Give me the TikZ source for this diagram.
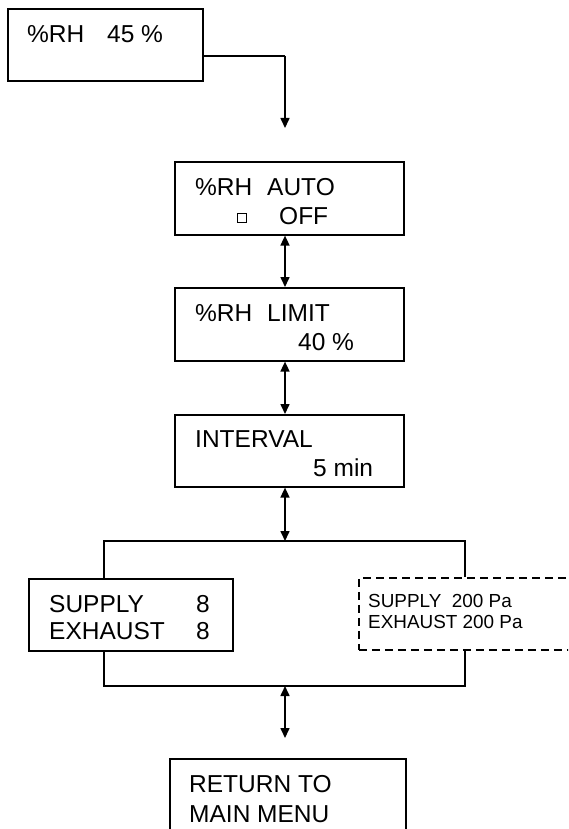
\documentclass[tikz,border=0pt]{standalone}
\usepackage{fontspec}
\setmainfont{Liberation Sans}
\usetikzlibrary{arrows.meta, positioning, calc}

\tikzset{
  panel/.style={draw, line width=1.6pt, minimum width=229pt, minimum height=73pt,
    anchor=north west, inner sep=0pt},
  lbl/.style={anchor=base west, inner sep=0pt, font=\fontsize{24.5}{29}\selectfont},
  small/.style={anchor=base west, inner sep=0pt, font=\fontsize{18.9}{22}\selectfont},
  wire/.style={line width=1.6pt},
  flow/.style={wire, -{Triangle[length=10pt,width=9pt]}},
  both/.style={wire, {Triangle[length=10pt,width=9pt]}-{Triangle[length=10pt,width=9pt]}},
}

\begin{document}
\begin{tikzpicture}[x=1pt, y=-1pt]
  \clip (0,0) rectangle (568,829);
  \coordinate (axis) at (285,0);

  % menu boxes
  \node[panel, minimum width=195pt, minimum height=72pt] (rh) at (7,8) {};
  \node[panel] (auto) at (174,161) {};
  \node[panel] (limit) at (174,287) {};
  \node[panel, minimum height=72pt] (interval) at (174,414) {};
  \node[panel, minimum width=204pt, minimum height=72pt] (fans) at (28,578) {};
  \node[panel, dash pattern=on 8pt off 5pt, minimum width=230pt, minimum height=72pt] (press) at (358,577) {};
  \node[panel, minimum width=236pt, minimum height=100pt] (ret) at (169,758) {};

  % texts
  \node[lbl] (t1) at (27,43) {\%RH};
  \node[lbl] (t2) at (107,43) {45 \%};
  \node[lbl] (t3) at (195,195) {\%RH};
  \node[lbl] (t4) at (267,195) {AUTO};
  \node[draw, line width=0.7pt, minimum width=9pt, minimum height=9pt, inner sep=0pt] (chk) at (242,218) {};
  \node[lbl] (t5) at (279,224) {OFF};
  \node[lbl] (t6) at (195,321) {\%RH};
  \node[lbl] (t7) at (267,321) {LIMIT};
  \node[lbl] (t8) at (298,350) {40 \%};
  \node[lbl] (t9) at (195,447) {INTERVAL};
  \node[lbl] (t10) at (313,476) {5 min};
  \node[lbl] (t11) at (49,612) {SUPPLY};
  \node[lbl] (t12) at (196,612) {8};
  \node[lbl] (t13) at (49,639) {EXHAUST};
  \node[lbl] (t14) at (196,639) {8};
  \node[small] (t15) at (368,607) {SUPPLY\ \ 200 Pa};
  \node[small] (t16) at (368,628) {EXHAUST 200 Pa};
  \node[lbl] (t17) at (189,792) {RETURN TO};
  \node[lbl] (t18) at (189,822) {MAIN MENU};

  % connectors
  \coordinate (bend) at (285,56);
  \coordinate (drop) at (285,128);
  \draw[wire] (rh.east |- bend) -- (bend);
  \draw[flow] (bend) -- (drop);
  \draw[both] (auto.south -| axis) -- (limit.north -| axis);
  \draw[both] (limit.south -| axis) -- (interval.north -| axis);

  \coordinate (splitL) at (104,541);
  \coordinate (splitR) at (465,541);
  \coordinate (joinL) at (104,686);
  \coordinate (joinR) at (465,686);
  \draw[both] (interval.south -| axis) -- (splitL -| axis);
  \draw[wire] (fans.north -| splitL) -- (splitL) -- (splitR) -- (press.north -| splitR);
  \draw[wire] (fans.south -| joinL) -- (joinL) -- (joinR) -- (press.south -| joinR);
  \coordinate (back) at (285,738);
  \draw[both] (joinL -| axis) -- (back);
\end{tikzpicture}
\end{document}
